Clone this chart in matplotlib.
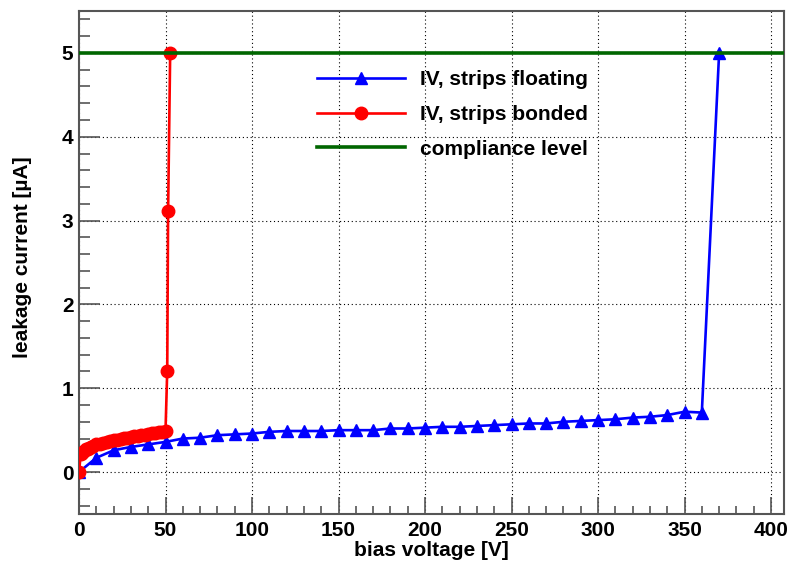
import numpy as np
import matplotlib
matplotlib.use('Agg')
import matplotlib.pyplot as plt
from matplotlib.ticker import MultipleLocator

plt.rcParams['font.family'] = ['Liberation Sans', 'DejaVu Sans']
plt.rcParams['font.weight'] = 'bold'

### DATA ######################################################################
# strips floating: 10 V steps, breakdown at 370 V
v_float = [0, 10, 20, 30, 40, 50, 60, 70, 80, 90, 100, 110, 120, 130, 140, 150,
           160, 170, 180, 190, 200, 210, 220, 230, 240, 250, 260, 270, 280, 290,
           300, 310, 320, 330, 340, 350, 360, 370]
i_float = [0.0, 0.17, 0.26, 0.30, 0.33, 0.36, 0.40, 0.41, 0.44, 0.45, 0.46, 0.48,
           0.49, 0.49, 0.49, 0.50, 0.50, 0.50, 0.52, 0.52, 0.53, 0.54, 0.54, 0.55,
           0.56, 0.57, 0.58, 0.58, 0.60, 0.61, 0.62, 0.63, 0.65, 0.66, 0.68, 0.72,
           0.71, 5.0]

# strips bonded: fine steps, breakdown just above 50 V
v_bond = [0, 1, 2, 3, 4, 5, 6, 7, 8, 10, 12, 14, 16, 18, 20, 22, 24, 26, 28, 30,
          32, 34, 36, 38, 40, 42, 44, 46, 48, 50, 51, 51.5, 52.7]
i_bond = [0.0, 0.21, 0.23, 0.25, 0.27, 0.28, 0.29, 0.30, 0.31, 0.33, 0.34, 0.35,
          0.36, 0.37, 0.38, 0.388, 0.396, 0.404, 0.412, 0.42, 0.427, 0.434, 0.441,
          0.448, 0.455, 0.462, 0.469, 0.476, 0.483, 0.49, 1.21, 3.11, 5.0]

compliance = 5.0

### PLOT ######################################################################
fig = plt.figure(figsize=(7.88, 5.66), dpi=100)
ax = fig.add_axes([79/788, 1-514/566, (784-79)/788, (514-11)/566])

ax.plot(v_float, i_float, color='#0000ff', lw=1.9, marker='^', ms=9,
        label='IV, strips floating', zorder=3)
ax.plot(v_bond, i_bond, color='#ff0000', lw=1.9, marker='o', ms=9,
        label='IV, strips bonded', zorder=4)
ax.axhline(compliance, color='#006600', lw=2.6, label='compliance level', zorder=5)

ax.set_xlim(0, 407.5)
ax.set_ylim(-0.5, 5.5)
ax.xaxis.set_major_locator(MultipleLocator(50))
ax.xaxis.set_minor_locator(MultipleLocator(10))
ax.yaxis.set_major_locator(MultipleLocator(1))
ax.yaxis.set_minor_locator(MultipleLocator(0.2))

ax.grid(True, which='major', color='black', ls=(0, (1, 2.5)), lw=0.8)
ax.set_axisbelow(True)

sp_col = '#555555'
for s in ax.spines.values():
    s.set_color(sp_col)
    s.set_linewidth(1.5)
ax.tick_params(axis='both', which='both', direction='in', colors=sp_col,
               labelcolor='black', labelsize=15, width=1.2, top=False, right=False)
ax.tick_params(axis='x', which='major', length=12, pad=5)
ax.tick_params(axis='x', which='minor', length=6)
ax.tick_params(axis='y', which='major', length=15, pad=4)
ax.tick_params(axis='y', which='minor', length=8)

ax.set_xlabel('bias voltage [V]', fontsize=15, fontweight='bold')
ax.set_ylabel('leakage current [µA]', fontsize=15, fontweight='bold')
ax.xaxis.set_label_coords(0.5, -0.053)
ax.yaxis.set_label_coords(-0.066, 0.51)

leg = ax.legend(loc='upper left', bbox_to_anchor=(317/788, 1-70/566),
                bbox_transform=fig.transFigure, frameon=False, fontsize=15,
                numpoints=1, handlelength=4.2, handletextpad=0.72,
                labelspacing=0.76, borderpad=0, borderaxespad=0)

fig.savefig('out.png', dpi=100)
